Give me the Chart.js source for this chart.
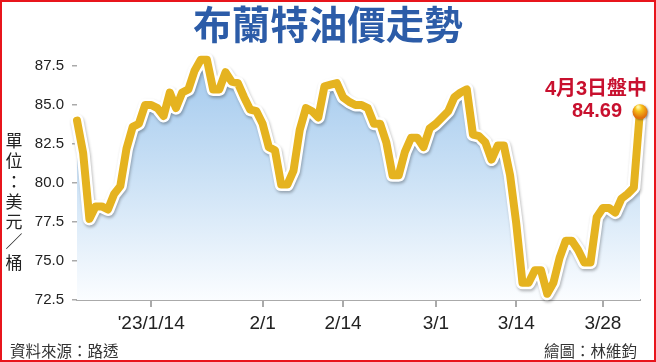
<!DOCTYPE html>
<html>
<head>
<meta charset="utf-8">
<script src="https://cdn.jsdelivr.net/npm/chart.js@4"></script>
<style>
  body { margin: 0; background: #fff; }
  #wrap { position: relative; width: 656px; height: 362px; overflow: hidden; font-family: 'Noto Sans CJK TC', sans-serif; }
  #chart { position: absolute; left: 0; top: 0; }
  .frame { position: absolute; left: 0; top: 0; width: 656px; height: 362px; box-sizing: border-box; border: 2px solid #e8151c; pointer-events: none; }
  .title { position: absolute; left: 0; top: 0; width: 656px; text-align: center; font-size: 38.5px; line-height: 44px; font-weight: bold; color: #2c5ca8; }
  .unit { position: absolute; left: 4px; top: 130px; width: 20px; font-size: 17px; line-height: 20.3px; color: #222; text-align: center; }
  .unit span { display: block; }
  .src, .credit { position: absolute; top: 339px; font-size: 15.5px; line-height: 22px; color: #333; }
  .src { left: 10px; }
  .credit { right: 19px; }
</style>
</head>
<body>
<div id="wrap">
  <canvas id="chart" width="656" height="362"></canvas>
  <div class="title">布蘭特油價走勢</div>
  <div class="unit"><span>單</span><span>位</span><span>：</span><span>美</span><span>元</span><span>／</span><span>桶</span></div>
  <div class="src">資料來源：路透</div>
  <div class="credit">繪圖：林維鈞</div>
  <div class="frame"></div>
</div>
<script>
// calendar days, 2023/1/2 .. 2023/4/3
const days = [
  '1/2','1/3','1/4','1/5','1/6','1/7','1/8','1/9','1/10','1/11','1/12','1/13','1/14','1/15','1/16',
  '1/17','1/18','1/19','1/20','1/21','1/22','1/23','1/24','1/25','1/26','1/27','1/28','1/29','1/30','1/31',
  '2/1','2/2','2/3','2/4','2/5','2/6','2/7','2/8','2/9','2/10','2/11','2/12','2/13','2/14',
  '2/15','2/16','2/17','2/18','2/19','2/20','2/21','2/22','2/23','2/24','2/25','2/26','2/27','2/28',
  '3/1','3/2','3/3','3/4','3/5','3/6','3/7','3/8','3/9','3/10','3/11','3/12','3/13','3/14','3/15','3/16',
  '3/17','3/18','3/19','3/20','3/21','3/22','3/23','3/24','3/25','3/26','3/27','3/28','3/29','3/30','3/31',
  '4/1','4/2','4/3'
];

// Brent, USD per barrel
const prices = [
  84.0, 81.9, 77.7, 78.5, 78.5, 78.3, 79.3, 79.8, 82.2, 83.6, 83.8, 85.0, 85.0, 84.8, 84.3,
  85.8, 84.8, 85.8, 86.0, 87.2, 87.9, 87.9, 86.0, 86.0, 87.1, 86.5, 86.4, 85.5, 84.7, 84.6,
  83.8, 82.3, 82.1, 79.9, 79.9, 80.8, 83.4, 84.8, 84.6, 84.2, 86.2, 86.3, 86.4, 85.5,
  85.2, 85.0, 85.0, 84.8, 83.8, 83.8, 82.6, 80.5, 80.5, 82.0, 82.9, 82.9, 82.3, 83.5,
  83.8, 84.2, 84.6, 85.5, 85.8, 86.0, 83.1, 83.0, 82.6, 81.5, 82.4, 82.4, 80.5, 77.4, 73.6, 73.6,
  74.4, 74.4, 72.9, 73.6, 75.2, 76.3, 76.3, 75.7, 74.9, 74.9, 77.8, 78.4, 78.4, 78.1, 79.0,
  79.3, 79.7, 84.69
];

const tickDates = ['1/14', '2/1', '2/14', '3/1', '3/14', '3/28'];
const tickText = ["'23/1/14", '2/1', '2/14', '3/1', '3/14', '3/28'];
const yTicks = [72.5, 75, 77.5, 80, 82.5, 85, 87.5];
const noteLabel = '4月3日盤中';

const numFont = "'Liberation Sans', Arial, sans-serif";

function fillGradient(context) {
    const { ctx, chartArea } = context.chart;
    if (!chartArea) return 'rgba(0,0,0,0)';
    const g = ctx.createLinearGradient(0, chartArea.top, 0, chartArea.bottom);
    g.addColorStop(0, '#9cc5ec');
    g.addColorStop(0.5, '#c9e0f5');
    g.addColorStop(1, '#fbfdff');
    return g;
}

// soft shadow under the white outline of the line
const outlineShadow = {
    id: 'outlineShadow',
    beforeDatasetDraw(chart, args) {
        if (args.index !== 1) return;
        const c = chart.ctx;
        c.save();
        c.shadowColor = 'rgba(0,0,0,0.28)';
        c.shadowBlur = 3;
        c.shadowOffsetX = 1;
        c.shadowOffsetY = 2;
    },
    afterDatasetDraw(chart, args) {
        if (args.index === 1) chart.ctx.restore();
    }
};

// end dot + label for the latest price
const lastPrice = {
    id: 'lastPrice',
    afterDatasetsDraw(chart) {
        const meta = chart.getDatasetMeta(0);
        const last = meta.data.length - 1;
        const pt = meta.data[last];
        const c = chart.ctx;
        c.save();
        const g = c.createRadialGradient(pt.x - 2, pt.y - 3, 1, pt.x, pt.y, 8);
        g.addColorStop(0, '#fff3a0');
        g.addColorStop(0.35, '#f7c21a');
        g.addColorStop(1, '#e0700c');
        c.shadowColor = 'rgba(0,0,0,0.3)';
        c.shadowBlur = 2;
        c.shadowOffsetX = 1;
        c.shadowOffsetY = 1;
        c.beginPath();
        c.arc(pt.x, pt.y + 2, 7.5, 0, Math.PI * 2);
        c.fillStyle = g;
        c.fill();
        c.shadowColor = 'transparent';
        c.fillStyle = '#c8102e';
        c.font = "bold 20px 'Liberation Sans', 'Noto Sans CJK TC', sans-serif";
        c.textAlign = 'center';
        c.textBaseline = 'alphabetic';
        c.fillText(noteLabel, pt.x - 44, pt.y - 15);
        c.fillText(prices[last].toFixed(2), pt.x - 43, pt.y + 7);
        c.restore();
    }
};

const ctx = document.getElementById('chart').getContext('2d');
new Chart(ctx, {
    type: 'line',
    data: {
        labels: days,
        datasets: [
            {
                data: prices,
                borderColor: '#e5b320',
                borderWidth: 8,
                borderJoinStyle: 'round',
                borderCapStyle: 'round',
                fill: false,
                pointRadius: 0,
                tension: 0,
                clip: false,
                order: 0
            },
            {
                data: prices,
                borderColor: '#ffffff',
                borderWidth: 13,
                borderJoinStyle: 'round',
                borderCapStyle: 'round',
                fill: false,
                pointRadius: 0,
                tension: 0,
                clip: false,
                order: 1
            },
            {
                data: prices,
                borderWidth: 0,
                borderColor: 'rgba(0,0,0,0)',
                backgroundColor: fillGradient,
                fill: 'start',
                pointRadius: 0,
                tension: 0,
                order: 2
            }
        ]
    },
    options: {
        responsive: false,
        animation: false,
        layout: { padding: { left: 0, right: 16, top: 42.6, bottom: 22 } },
        plugins: {
            legend: { display: false },
            tooltip: { enabled: false }
        },
        scales: {
            x: {
                type: 'category',
                offset: false,
                afterBuildTicks: axis => {
                    axis.ticks = tickDates.map(d => ({ value: days.indexOf(d) }));
                },
                afterFit: axis => { axis.height = 40; },
                ticks: {
                    autoSkip: false,
                    maxRotation: 0,
                    padding: 5,
                    color: '#222',
                    font: { size: 19, family: numFont },
                    callback: (v, i) => tickText[i]
                },
                grid: { drawOnChartArea: false, tickLength: 7, color: '#aaa', lineWidth: 2 },
                border: { display: true, color: '#aaa', width: 2 }
            },
            y: {
                min: 72.5,
                max: 89,
                afterBuildTicks: axis => {
                    axis.ticks = yTicks.map(v => ({ value: v }));
                },
                afterFit: axis => { axis.width = 77; },
                ticks: {
                    padding: 8,
                    color: '#222',
                    font: { size: 15, family: numFont },
                    callback: v => v.toFixed(1)
                },
                grid: { drawOnChartArea: false, tickLength: 5, color: '#aaa', lineWidth: 1.5 },
                border: { display: false }
            }
        }
    },
    plugins: [outlineShadow, lastPrice]
});
</script>
</body>
</html>
